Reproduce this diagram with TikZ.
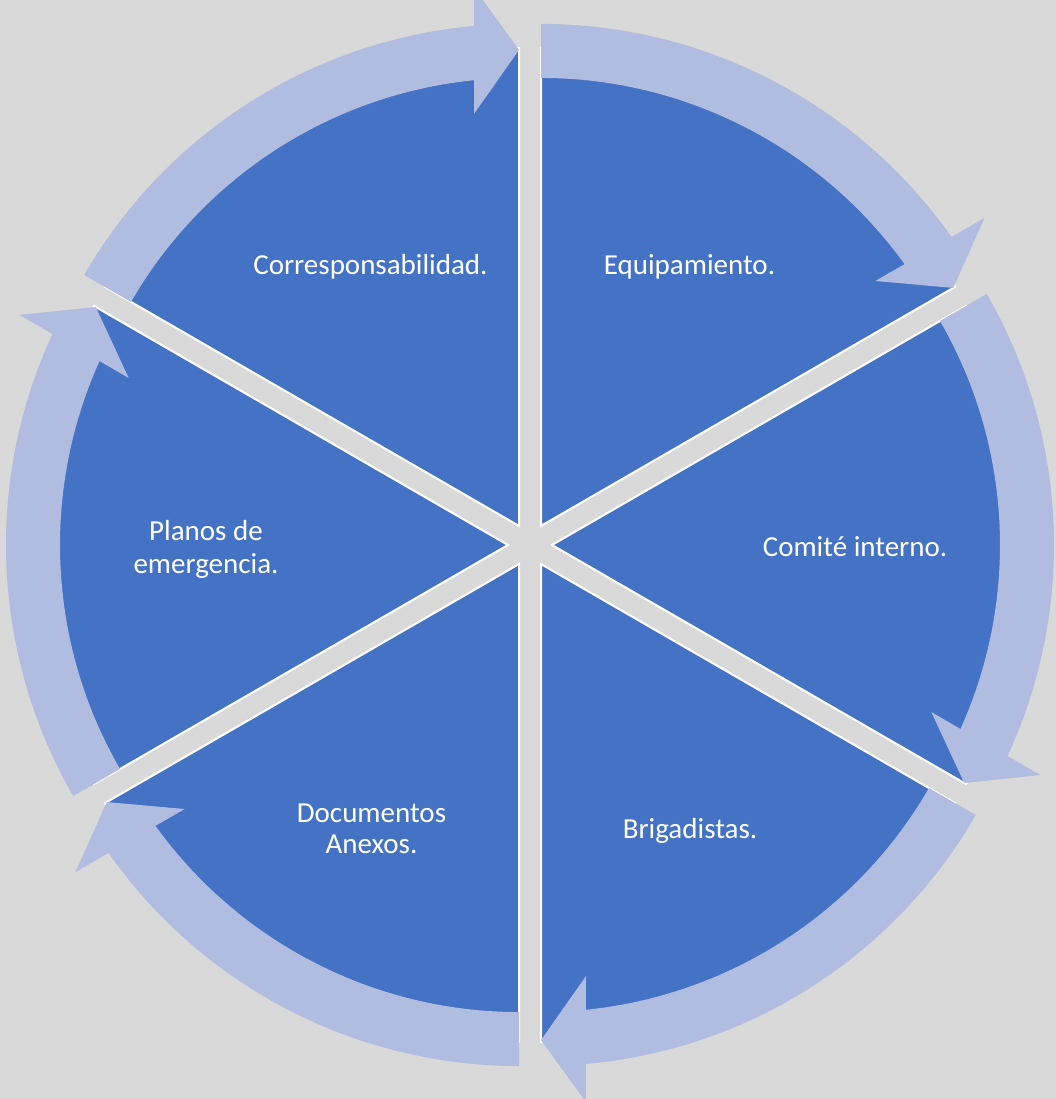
\documentclass[tikz,border=0pt]{standalone}
\usepackage{fontspec}
\setmainfont{Carlito}
\definecolor{bg}{HTML}{D9D9D9}
\definecolor{seg}{HTML}{4472C4}
\definecolor{arr}{HTML}{B0BCE0}
\begin{document}
\begin{tikzpicture}[x=1pt,y=1pt,
  segment/.style={fill=seg, draw=white, line width=2pt, line join=miter},
  cyclearrow/.style={fill=arr},
  segtext/.style={text=white, font=\fontsize{29}{33}\selectfont, align=center, anchor=base, inner sep=0pt}]
\fill[bg] (-530,-554) rectangle (526,545);
\useasboundingbox (-530,-554) rectangle (526,545);
\foreach \b in {60,0,-60,-120,180,120}{
  \begin{scope}[shift={(\b:22)}, rotate=\b-30]
    \path[segment] (0,0) -- (0:478) arc[start angle=0, end angle=60, radius=478] -- cycle;
  \end{scope}}
\foreach \b in {60,0,-60,-120,180,120}{
  \begin{scope}[shift={(\b:22)}, rotate=\b-30]
    \path[cyclearrow] (60:448) arc[start angle=60, end angle=5.76, radius=448]
      -- (412,45) -- (476,0) -- (538,45) -- (5.14:502)
      arc[start angle=5.14, end angle=60, radius=502] -- cycle;
  \end{scope}}
\node[segtext] (corr) at (-159.5,270) {Corresponsabilidad.};
\node[segtext] (equip) at (159.5,270) {Equipamiento.};
\node[segtext] (comite) at (325,-12) {Comité interno.};
\node[segtext] (brig) at (160,-293) {Brigadistas.};
\node[segtext] (docs) at (-158.5,-308) {Documentos\\[-2pt]Anexos.};
\node[segtext] (planos) at (-324,-29) {Planos de\\emergencia.};
\end{tikzpicture}
\end{document}
